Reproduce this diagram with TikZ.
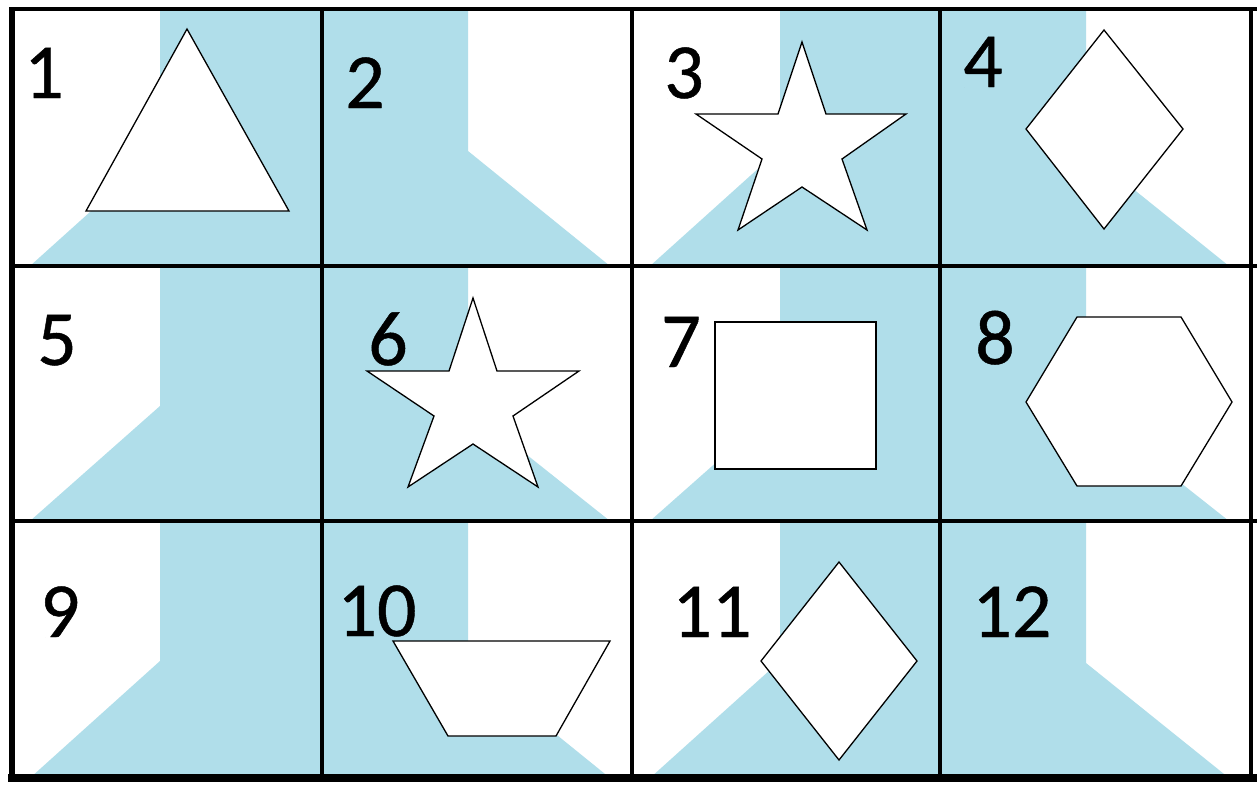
\documentclass[tikz,border=0pt]{standalone}
\usepackage{fontspec}
\setmainfont{Carlito}
\newfontfamily\numfont{Carlito}[FakeBold=0.6]
\definecolor{tileblue}{RGB}{176,222,234}
\tikzset{
  shapeline/.style={draw=black, fill=white, line width=1.3, line join=miter},
  gridline/.style={draw=black, line width=3.5},
  numlabel/.style={inner sep=0pt, anchor=base, font=\numfont\fontsize{78}{80}\selectfont, text=black},
  bluepart/.style={fill=tileblue, draw=none}
}
\begin{document}
\begin{tikzpicture}[x=1pt,y=-1pt]
\useasboundingbox (0,0) rectangle (1257,787);
\fill[white] (0,0) rectangle (1257,787);
% type A cells (white left, blue right, blue wedge bottom-left)
\foreach \xa/\ya/\xb/\yb in {12/9/322/266, 632/9/940/266, 12/266/322/521, 632/266/940/521, 12/521/322/778, 632/521/940/778}{
  \fill[bluepart] (\xa+148,\ya) -- (\xb,\ya) -- (\xb,\yb) -- (\xa+18,\yb) -- (\xa+148,\ya+140) -- cycle;
}
% type B cells (blue left, white right, blue wedge bottom-right)
\foreach \xa/\ya/\xb/\yb in {322/9/632/266, 940/9/1251/266, 322/266/632/521, 940/266/1251/521, 322/521/632/778, 940/521/1251/778}{
  \fill[bluepart] (\xa,\ya) -- (\xa+146,\ya) -- (\xa+146,\ya+142) -- (\xb-22,\yb) -- (\xa,\yb) -- cycle;
}
% grid
\draw[gridline] (12,9) -- (1257,9);
\draw[gridline] (12,266) -- (1257,266);
\draw[gridline] (12,521) -- (1257,521);
\draw[black, line width=8] (8,778) -- (1257,778);
\draw[black, line width=6] (12,7) -- (12,782);
\draw[gridline] (322,7) -- (322,782);
\draw[gridline] (632,7) -- (632,782);
\draw[gridline] (940,7) -- (940,782);
\draw[gridline] (1251,7) -- (1251,782);
% shapes
\draw[shapeline] (187,29) -- (289,211) -- (86,211) -- cycle;
\draw[shapeline] (802,42) -- (826,114) -- (906,114) -- (842,159) -- (867,230) -- (802,187) -- (738,230) -- (762,159) -- (696,114) -- (778,114) -- cycle;
\draw[shapeline] (1104,30) -- (1183,129) -- (1104,229) -- (1026,129) -- cycle;
\draw[shapeline] (473,298) -- (497,371) -- (579,371) -- (513,416) -- (538,487) -- (473,444) -- (408,487) -- (434,416) -- (367,371) -- (449,371) -- cycle;
\draw[shapeline] (715,322) rectangle (876,469);
\draw[shapeline] (1077,317) -- (1181,317) -- (1232,402) -- (1181,486) -- (1077,486) -- (1026,402) -- cycle;
\draw[shapeline] (393,641) -- (610,641) -- (556,736) -- (448,736) -- cycle;
\draw[shapeline] (839,562) -- (917,661) -- (839,760) -- (761,661) -- cycle;
% labels
\node[numlabel] (n1) at (44,98) {1};
\node[numlabel] (n2) at (365,108) {2};
\node[numlabel] (n3) at (684,98) {3};
\node[numlabel] (n4) at (983,87) {4};
\node[numlabel] (n5) at (57,365) {5};
\node[numlabel] (n6) at (388,365) {6};
\node[numlabel] (n7) at (681,367) {7};
\node[numlabel] (n8) at (995,364) {8};
\node[numlabel] (n9) at (60,637) {9};
\node[numlabel] (n10) at (377,636) {10};
\node[numlabel] (n11) at (712,637) {11};
\node[numlabel] (n12) at (1012,637) {12};
\end{tikzpicture}
\end{document}
